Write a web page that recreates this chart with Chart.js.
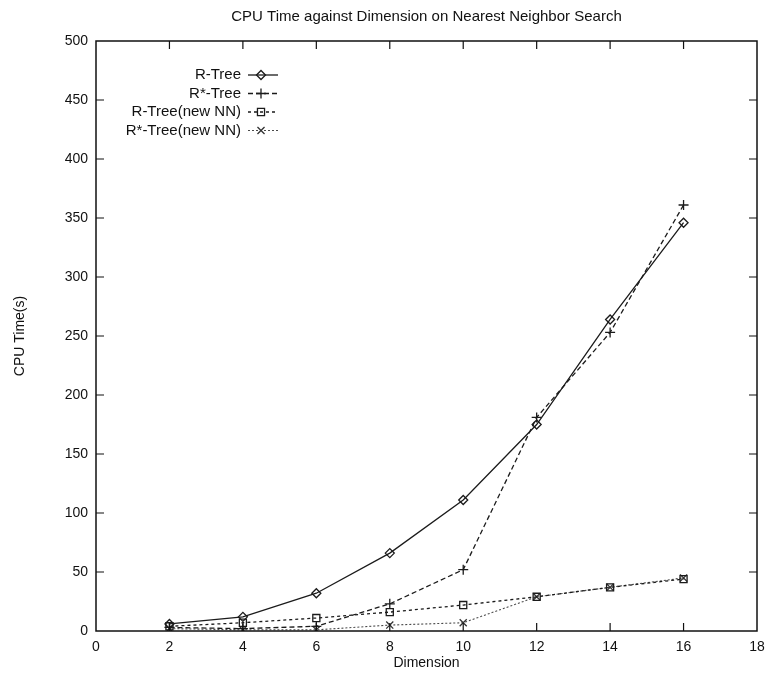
<!DOCTYPE html>
<html>
<head>
<meta charset="utf-8">
<script src="https://cdn.jsdelivr.net/npm/chart.js@4/dist/chart.umd.min.js"></script>
<style>
  html, body { margin: 0; padding: 0; background: #fff; }
  #wrap { width: 769px; height: 676px; }
</style>
</head>
<body>
<div id="wrap"><canvas id="grafico"></canvas></div>
<script>
// Datos: tiempo de CPU (s) por dimensión
const dimensiones = [2, 4, 6, 8, 10, 12, 14, 16];
const rTree = [6, 12, 32, 66, 111, 175, 264, 346];
const rStarTree = [3, 2, 4, 23, 52, 181, 253, 361];
const rTreeNewNN = [4, 7, 11, 16, 22, 29, 37, 44];
const rStarTreeNewNN = [2, 1, 1, 5, 7, 29, 37, 45];
const nombresSeries = ["R-Tree", "R*-Tree", "R-Tree(new NN)", "R*-Tree(new NN)"];
const ticksX = [0, 2, 4, 6, 8, 10, 12, 14, 16, 18];
const ticksY = [0, 50, 100, 150, 200, 250, 300, 350, 400, 450, 500];
const titulo = "CPU Time against Dimension on Nearest Neighbor Search";

const fuente = "'Liberation Sans', Arial, sans-serif";

function puntos(valores) {
  return dimensiones.map((d, i) => ({ x: d, y: valores[i] }));
}

function serie(label, valores, estilo) {
  return Object.assign({
    label: label,
    data: puntos(valores),
    borderColor: "#1b1b1b",
    borderWidth: 1.3,
    pointBorderColor: "#1b1b1b",
    pointBackgroundColor: "rgba(0,0,0,0)",
    pointBorderWidth: 1.3,
    pointRadius: 4,
    fill: false,
    tension: 0
  }, estilo);
}

// Título centrado sobre el área de trazado
const tituloCentrado = {
  id: "tituloCentrado",
  afterDraw(chart) {
    const { ctx, chartArea: a } = chart;
    ctx.save();
    ctx.font = "15px " + fuente;
    ctx.fillStyle = "#111";
    ctx.textAlign = "center";
    ctx.textBaseline = "middle";
    ctx.fillText(titulo, (a.left + a.right) / 2, 17);
    ctx.restore();
  }
};

// Marco con marcas hacia adentro en los cuatro lados
const marco = {
  id: "marco",
  afterDatasetsDraw(chart) {
    const { ctx, chartArea: a, scales } = chart;
    const largo = 8;
    ctx.save();
    ctx.strokeStyle = "#111";
    ctx.lineWidth = 1.5;
    ctx.strokeRect(a.left, a.top, a.right - a.left, a.bottom - a.top);
    ctx.lineWidth = 1.2;
    ctx.beginPath();
    ticksX.forEach(v => {
      const px = scales.x.getPixelForValue(v);
      if (v === 0 || v === 18) return;
      ctx.moveTo(px, a.bottom); ctx.lineTo(px, a.bottom - largo);
      ctx.moveTo(px, a.top); ctx.lineTo(px, a.top + largo);
    });
    ticksY.forEach(v => {
      const py = scales.y.getPixelForValue(v);
      if (v === 0 || v === 500) return;
      ctx.moveTo(a.left, py); ctx.lineTo(a.left + largo, py);
      ctx.moveTo(a.right, py); ctx.lineTo(a.right - largo, py);
    });
    ctx.stroke();
    ctx.restore();
  }
};

// Leyenda estilo gnuplot: texto alineado a la derecha y muestra de línea
const leyenda = {
  id: "leyenda",
  afterDatasetsDraw(chart) {
    const { ctx } = chart;
    const xTexto = 241, x0 = 248, x1 = 278, xMarca = 261;
    const y0 = 75, paso = 18.5;
    ctx.save();
    ctx.font = "15px " + fuente;
    ctx.fillStyle = "#111";
    ctx.textAlign = "right";
    ctx.textBaseline = "middle";
    chart.data.datasets.forEach((ds, i) => {
      const y = y0 + i * paso;
      ctx.fillText(ds.label, xTexto, y);
      ctx.save();
      ctx.strokeStyle = ds.borderColor;
      ctx.lineWidth = ds.borderWidth;
      ctx.setLineDash(ds.borderDash || []);
      ctx.beginPath();
      ctx.moveTo(x0, y); ctx.lineTo(x1, y);
      ctx.stroke();
      ctx.restore();
      ctx.save();
      ctx.strokeStyle = ds.pointBorderColor;
      ctx.fillStyle = ds.pointBackgroundColor;
      ctx.lineWidth = ds.pointBorderWidth;
      Chart.helpers.drawPoint(ctx, {
        pointStyle: ds.pointStyle,
        radius: ds.pointRadius,
        rotation: 0,
        borderWidth: ds.pointBorderWidth
      }, xMarca, y);
      ctx.restore();
    });
    ctx.restore();
  }
};

const ctx = document.getElementById("grafico").getContext("2d");

new Chart(ctx, {
  type: "line",
  data: {
    datasets: [
      serie(nombresSeries[0], rTree, { pointStyle: "rectRot", pointRadius: 4.5 }),
      serie(nombresSeries[1], rStarTree, { pointStyle: "cross", pointRadius: 5, borderDash: [5, 3] }),
      serie(nombresSeries[2], rTreeNewNN, { pointStyle: "rect", pointRadius: 5, borderDash: [3, 3] }),
      serie(nombresSeries[3], rStarTreeNewNN, {
        pointStyle: "crossRot", pointRadius: 5, borderDash: [2, 2],
        borderColor: "#4a4a4a", pointBorderColor: "#333", borderWidth: 1.1
      })
    ]
  },
  options: {
    responsive: true,
    maintainAspectRatio: false,
    animation: false,
    layout: { padding: { top: 41, right: 12, left: 0, bottom: 0 } },
    plugins: {
      legend: { display: false },
      tooltip: { enabled: false },
      title: { display: false }
    },
    scales: {
      x: {
        type: "linear",
        min: 0,
        max: 18,
        afterBuildTicks(scale) { scale.ticks = ticksX.map(v => ({ value: v })); },
        afterFit(scale) {
          scale.height = 45;
          scale.paddingRight = 0;
          scale.paddingLeft = 0;
        },
        grid: { display: false, drawTicks: false },
        border: { display: false },
        ticks: { color: "#111", padding: 8, font: { family: fuente, size: 14 } },
        title: {
          display: true,
          text: "Dimension",
          color: "#111",
          font: { family: fuente, size: 14 },
          padding: { top: 0, bottom: 4 }
        }
      },
      y: {
        type: "linear",
        min: 0,
        max: 500,
        afterBuildTicks(scale) { scale.ticks = ticksY.map(v => ({ value: v })); },
        afterFit(scale) { scale.width = 96; },
        grid: { display: false, drawTicks: false },
        border: { display: false },
        ticks: { color: "#111", padding: 8, font: { family: fuente, size: 14 } },
        title: {
          display: true,
          text: "CPU Time(s)",
          color: "#111",
          font: { family: fuente, size: 14 },
          padding: { top: 12, bottom: 0 }
        }
      }
    }
  },
  plugins: [tituloCentrado, marco, leyenda]
});
</script>
</body>
</html>
